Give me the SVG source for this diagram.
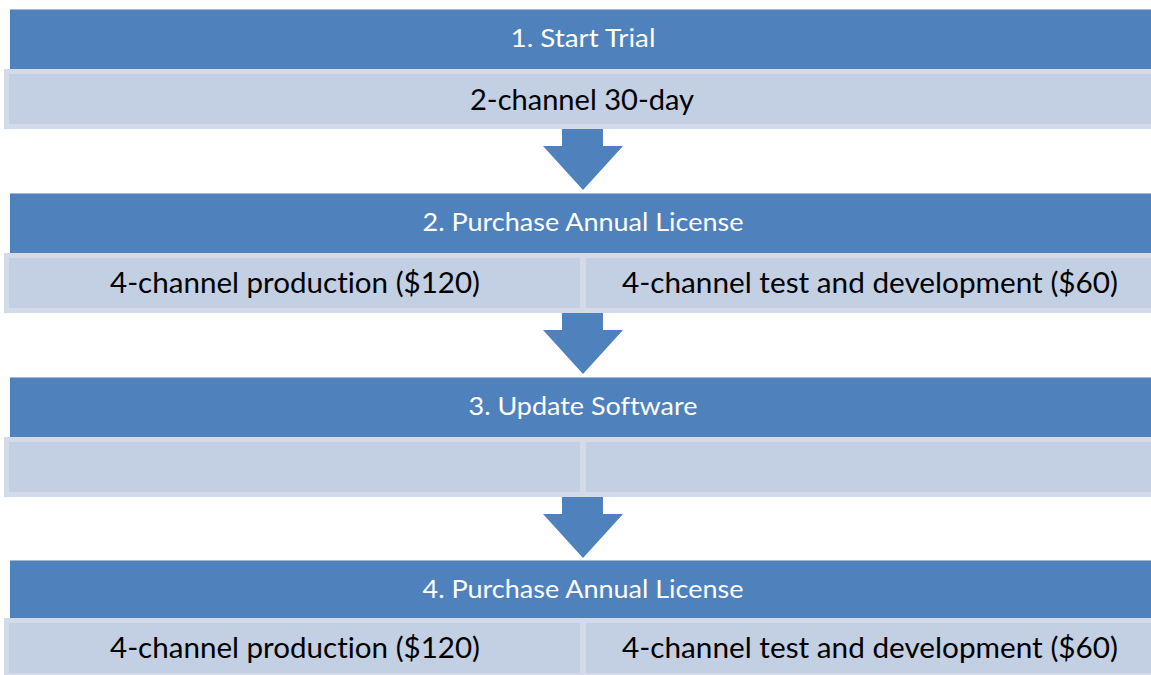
<svg xmlns="http://www.w3.org/2000/svg" width="1151" height="675" viewBox="0 0 1151 675">
<style>
.hdr{fill:#4f81bd;}
.hline{stroke:#a8b8cf;stroke-width:1;}
.sub{fill:#c3cfe3;stroke:#d3dbea;stroke-width:5;}
.arr{fill:#4f81bd;}
.ht{font-family:Lato,"Liberation Sans",Arial,sans-serif;font-size:25px;fill:#ffffff;text-anchor:middle;font-variant-ligatures:none;font-feature-settings:"liga" 0,"dlig" 0;}
.st{font-family:Lato,"Liberation Sans",Arial,sans-serif;font-size:28px;fill:#000000;text-anchor:middle;font-variant-ligatures:none;font-feature-settings:"liga" 0,"dlig" 0;}
</style>
<rect width="1151" height="675" fill="#ffffff"/>
<g id="connectors">
<polygon class="arr" points="562,128 603,128 603,146 623,146 583,190 543,146 562,146"/>
<polygon class="arr" points="562,312 603,312 603,330 623,330 583,374 543,330 562,330"/>
<polygon class="arr" points="562,496 603,496 603,514 623,514 583,558 543,514 562,514"/>
</g>
<g id="step1">
<rect class="hdr" x="10" y="9" width="1150" height="60"/>
<line class="hline" x1="10" y1="9.5" x2="1160" y2="9.5"/>
<text class="ht" x="583" y="47" textLength="145" lengthAdjust="spacingAndGlyphs">1. Start Trial</text>
</g>
<g id="step1-detail">
<rect class="sub" x="6.5" y="71.5" width="1160" height="55"/>
<text class="st" x="582" y="110" textLength="224" lengthAdjust="spacingAndGlyphs">2-channel 30-day</text>
</g>
<g id="step2">
<rect class="hdr" x="10" y="193" width="1150" height="60"/>
<line class="hline" x1="10" y1="193.5" x2="1160" y2="193.5"/>
<text class="ht" x="583" y="231" textLength="321" lengthAdjust="spacingAndGlyphs">2. Purchase Annual License</text>
</g>
<g id="step2-detail">
<rect class="sub" x="6.5" y="255.5" width="576" height="55"/>
<rect class="sub" x="583.5" y="255.5" width="580" height="55"/>
<text class="st" x="295" y="293" textLength="370" lengthAdjust="spacingAndGlyphs">4-channel production ($120)</text>
<text class="st" x="870" y="293" textLength="496" lengthAdjust="spacingAndGlyphs">4-channel test and development ($60)</text>
</g>
<g id="step3">
<rect class="hdr" x="10" y="377" width="1150" height="60"/>
<line class="hline" x1="10" y1="377.5" x2="1160" y2="377.5"/>
<text class="ht" x="583" y="415" textLength="229" lengthAdjust="spacingAndGlyphs">3. Update Software</text>
</g>
<g id="step3-detail">
<rect class="sub" x="6.5" y="439.5" width="576" height="55"/>
<rect class="sub" x="583.5" y="439.5" width="580" height="55"/>
</g>
<g id="step4">
<rect class="hdr" x="10" y="560" width="1150" height="60"/>
<line class="hline" x1="10" y1="560.5" x2="1160" y2="560.5"/>
<text class="ht" x="583" y="598" textLength="321" lengthAdjust="spacingAndGlyphs">4. Purchase Annual License</text>
</g>
<g id="step4-detail">
<rect class="sub" x="6.5" y="620.5" width="576" height="55"/>
<rect class="sub" x="583.5" y="620.5" width="580" height="55"/>
<text class="st" x="295" y="658" textLength="370" lengthAdjust="spacingAndGlyphs">4-channel production ($120)</text>
<text class="st" x="870" y="658" textLength="496" lengthAdjust="spacingAndGlyphs">4-channel test and development ($60)</text>
</g>
</svg>
